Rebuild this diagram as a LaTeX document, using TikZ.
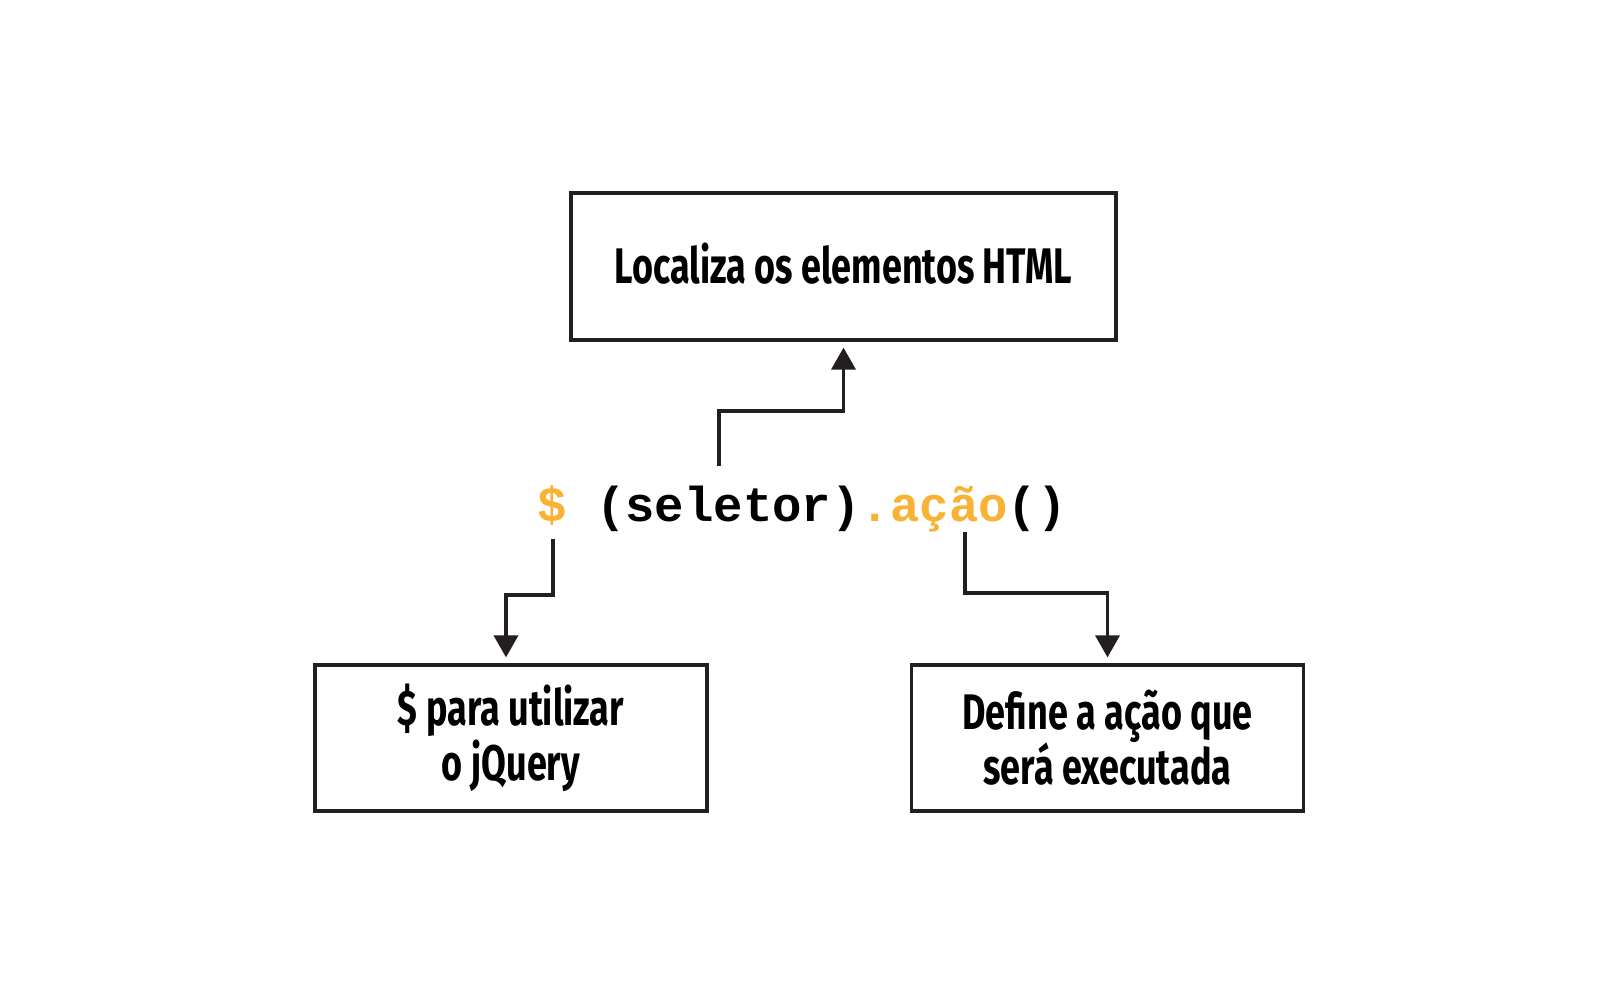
\documentclass[tikz,border=0pt]{standalone}
\usepackage{fontspec}
\setmainfont{Liberation Sans}
\newfontfamily\labelfont[FakeStretch=0.72]{Fira Sans}
\newfontfamily\codefont{Liberation Mono}
\usetikzlibrary{arrows.meta, positioning}
\definecolor{jqorange}{RGB}{248,178,52}
\definecolor{inkgray}{RGB}{35,31,32}

\begin{document}
\begin{tikzpicture}[x=0.5pt, y=-0.5pt, on grid,
    box/.style={draw=inkgray, line width=1.6pt, align=center, inner sep=0pt,
        font=\labelfont\bfseries\fontsize{25}{27.5}\selectfont},
    wide box/.style={box, minimum width=272.5pt, minimum height=73.5pt, text depth=3pt},
    small box/.style={box, minimum width=196pt, minimum height=73pt},
    code/.style={font=\codefont\bfseries\fontsize{24.5}{27}\selectfont, inner sep=0pt},
    link/.style={draw=inkgray, line width=1.8pt,
        -{Triangle[width=12pt,length=11pt]}, shorten >=3pt}]
  \useasboundingbox (0,0) rectangle (1620,1006);

  % the jQuery call
  \node[code, anchor=base] (code) at (802,521)
    {{\color{jqorange}\$} (seletor){\color{jqorange}.ação}()};

  % explanations
  \node[wide box] (html) at (843.5,266.5) {Localiza os elementos HTML};
  \node[small box] (jquery) at (511,738) {\$ para utilizar\\o jQuery};
  \node[small box] (acao) [right=298.25pt of jquery] {Define a ação que\\será executada};

  % where the connectors leave the code
  \coordinate (seletor) at (719,466);
  \coordinate (dollar) at (553,539);
  \coordinate (metodo) at (965,532);

  \draw[link] (seletor) -- ++(0,-55) -| (html.south);
  \draw[link] (dollar) -- ++(0,56) -| ([xshift=-2.5pt]jquery.north);
  \draw[link] (metodo) -- ++(0,61) -| (acao.north);
\end{tikzpicture}
\end{document}
